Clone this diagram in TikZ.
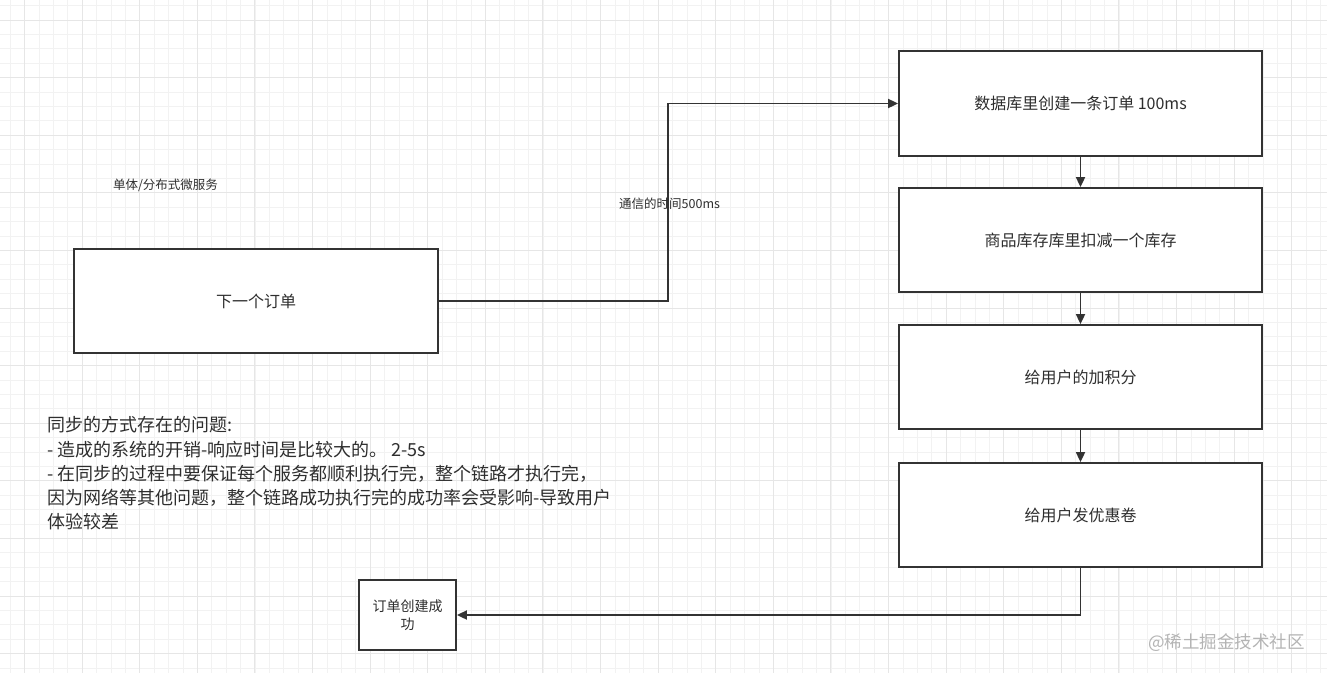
\documentclass[tikz,border=0pt]{standalone}
\usepackage{fontspec}
\setmainfont{Noto Sans CJK SC}
\usetikzlibrary{arrows.meta}
\definecolor{ln}{HTML}{333333}
\definecolor{tx}{HTML}{2E2E2E}
\definecolor{gminor}{HTML}{F2F2F2}
\definecolor{gmajor}{HTML}{E6E6E6}
\definecolor{wm}{HTML}{B4B4B4}
\tikzset{
  gridminor/.style={draw=gminor, line width=0.8pt},
  gridmajor/.style={draw=gmajor, line width=0.9pt},
  box/.style={draw=ln, line width=1.8pt, fill=white, inner sep=0pt, text=tx,
    font=\fontsize{16}{19}\selectfont},
  conn/.style={draw=ln, line width=1.8pt, -{Triangle[length=10pt,width=9pt]}},
  lbl/.style={text=tx, inner sep=0pt, font=\fontsize{12.5}{15}\selectfont},
  para/.style={text=tx, inner sep=0pt, anchor=west, font=\fontsize{18}{24}\selectfont},
}
\begin{document}
\begin{tikzpicture}[x=1pt,y=-1pt]
\useasboundingbox (0,0) rectangle (1327,673);
\fill[white] (0,0) rectangle (1327,673);
\begin{scope}
\clip (0,0) rectangle (1327,673);
\foreach \i in {0,...,92} { \draw[gridminor] ({10.1+14.4*\i},0) -- ++(0,673); }
\foreach \j in {0,...,47} { \draw[gridminor] (0,{5.6+14.4*\j}) -- ++(1327,0); }
\foreach \i in {0,...,23} { \draw[gridmajor] ({24.5+57.6*\i},0) -- ++(0,673); }
\foreach \j in {0,...,12} { \draw[gridmajor] (0,{20+57.6*\j}) -- ++(1327,0); }
\end{scope}

% label
\node[lbl] (svc) at (165.5,185) {单体/分布式微服务};

% boxes
\node[box, minimum width=364pt, minimum height=104pt] (b0) at (256,301) {下一个订单};
\node[box, minimum width=363pt, minimum height=105pt] (b1) at (1080.5,103.5) {数据库里创建一条订单 100ms};
\node[box, minimum width=363pt, minimum height=104pt] (b2) at (1080.5,240) {商品库存库里扣减一个库存};
\node[box, minimum width=363pt, minimum height=104pt] (b3) at (1080.5,377) {给用户的加积分};
\node[box, minimum width=363pt, minimum height=104pt] (b4) at (1080.5,515) {给用户发优惠卷};
\node[box, minimum width=97pt, minimum height=70pt, align=center,
  font=\fontsize{14}{18}\selectfont] (b5) at (407.5,615) {订单创建成\\功};

% connectors
\coordinate (k1) at (668,301);
\coordinate (k2) at (668,103.5);
\draw[conn] (b0.east) -- (k1) -- (k2) -- (b1.west);
\node[lbl, anchor=west] (comm) at (619,204) {通信的时间500ms};
\draw[conn] (b1.south) -- (b2.north);
\draw[conn] (b2.south) -- (b3.north);
\draw[conn] (b3.south) -- (b4.north);
\coordinate (k3) at (1080.5,615);
\draw[conn] (b4.south) -- (k3) -- (b5.east);

% paragraph
\node[para] (t1) at (47,425) {同步的方式存在的问题:};
\node[para] (t2) at (47,450) {- 造成的系统的开销-响应时间是比较大的。 2-5s};
\node[para] (t3) at (47,474) {- 在同步的过程中要保证每个服务都顺利执行完，整个链路才执行完，};
\node[para] (t4) at (47,498) {因为网络等其他问题，整个链路成功执行完的成功率会受影响-导致用户};
\node[para] (t5) at (47,522) {体验较差};

% watermark
\node[text=wm, inner sep=0pt, anchor=west, font=\fontsize{17.5}{20}\selectfont] (wmk) at (1148,643) {@稀土掘金技术社区};
\end{tikzpicture}
\end{document}
